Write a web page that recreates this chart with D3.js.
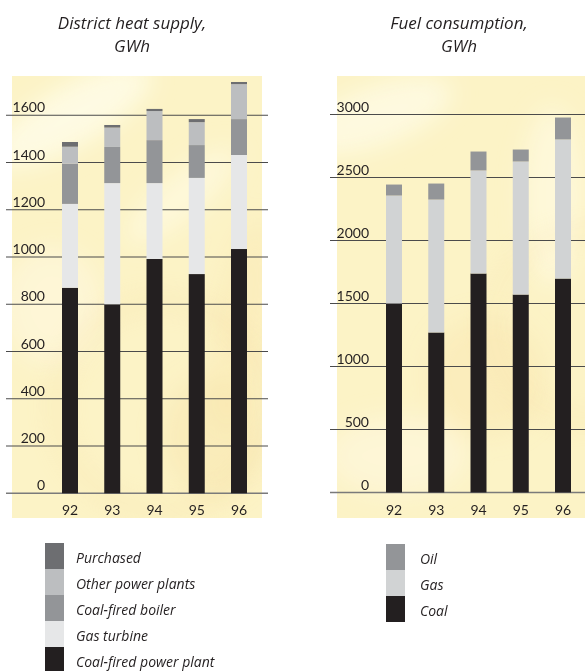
<!DOCTYPE html>
<html>
<head>
<meta charset="utf-8">
<script src="https://cdn.jsdelivr.net/npm/d3@7/dist/d3.min.js"></script>
<style>
  html, body { margin: 0; padding: 0; background: #fff; }
  svg { display: block; font-family: Lato, "Open Sans", sans-serif; }
  .ital { font-family: "Open Sans", Lato, sans-serif; font-style: italic; }
</style>
</head>
<body>
<svg id="chart" width="585" height="671"></svg>
<script>
// Years shared by both panels
const years = ["92", "93", "94", "95", "96"];

// District heat supply, GWh (stack order bottom -> top)
const heatSeries = ["Coal-fired power plant", "Gas turbine", "Coal-fired boiler", "Other power plants", "Purchased"];
const coalPowerPlant = [870, 800, 992, 928, 1034];
const gasTurbine     = [355, 513, 321, 407, 398];
const coalBoiler     = [170, 153, 182, 139, 152];
const otherPlants    = [72, 82, 123, 97, 148];
const purchased      = [20, 11, 9, 13, 9];
const heatTicks = [0, 200, 400, 600, 800, 1000, 1200, 1400, 1600];

// Fuel consumption, GWh (stack order bottom -> top)
const fuelSeries = ["Coal", "Gas", "Oil"];
const coal = [1500, 1270, 1738, 1571, 1698];
const gas  = [857, 1055, 818, 1056, 1104];
const oil  = [87, 127, 150, 95, 174];
const fuelTicks = [0, 500, 1000, 1500, 2000, 2500, 3000];

const heatColors = {
  "Coal-fired power plant": "#231f20",
  "Gas turbine": "#e6e7e8",
  "Coal-fired boiler": "#939598",
  "Other power plants": "#bcbec0",
  "Purchased": "#6d6e71"
};
const fuelColors = { "Coal": "#231f20", "Gas": "#d1d3d4", "Oil": "#939598" };

const svg = d3.select("#chart");
const defs = svg.append("defs");
defs.append("filter").attr("id", "soft")
  .attr("x", "-50%").attr("y", "-50%").attr("width", "200%").attr("height", "200%")
  .append("feGaussianBlur").attr("stdDeviation", 12);

function rows(series, arrays) {
  return years.map((y, i) => {
    const r = { year: y };
    series.forEach((s, k) => r[s] = arrays[k][i]);
    return r;
  });
}

function panel(opts) {
  const g = svg.append("g");
  const clipId = "clip" + opts.id;
  defs.append("clipPath").attr("id", clipId)
    .append("rect").attr("x", opts.px0).attr("y", opts.py0)
    .attr("width", opts.px1 - opts.px0).attr("height", opts.py1 - opts.py0);

  // pale yellow paper with soft swirls
  const bg = g.append("g").attr("clip-path", `url(#${clipId})`);
  bg.append("rect").attr("x", opts.px0).attr("y", opts.py0)
    .attr("width", opts.px1 - opts.px0).attr("height", opts.py1 - opts.py0)
    .attr("fill", "#fcf3c6");
  const blobs = bg.append("g").attr("filter", "url(#soft)");
  opts.blobs.forEach(b => {
    const cx = opts.px0 + b[0], cy = opts.py0 + b[1];
    blobs.append("ellipse")
      .attr("cx", cx).attr("cy", cy).attr("rx", b[2]).attr("ry", b[3])
      .attr("transform", `rotate(${b[4]},${cx},${cy})`)
      .attr("fill", b[5]).attr("opacity", b[6]);
  });
  // faint curved streak
  opts.arcs.forEach(a => {
    bg.append("circle")
      .attr("cx", opts.px0 + a[0]).attr("cy", opts.py0 + a[1]).attr("r", a[2])
      .attr("fill", "none").attr("stroke", a[3]).attr("stroke-width", a[4])
      .attr("opacity", a[5]).attr("filter", "url(#soft)");
  });

  const y = d3.scaleLinear().domain([0, opts.max]).range([opts.y0, opts.y1]);
  const x = d3.scalePoint().domain(years).range([opts.xc0, opts.xc1]);
  const bw = 16;

  // gridlines
  g.append("g").selectAll("line").data(opts.ticks).join("line")
    .attr("x1", opts.gx0).attr("x2", opts.gx1)
    .attr("y1", d => y(d)).attr("y2", d => y(d))
    .attr("stroke", d => d === 0 ? "#7a7a7a" : "#4b4b4b")
    .attr("stroke-width", d => d === 0 ? 1.6 : 1.1);

  // tick labels sitting on the lines
  g.append("g").selectAll("text").data(opts.ticks).join("text")
    .attr("x", opts.labelX).attr("y", d => y(d) - 3)
    .attr("text-anchor", "end")
    .attr("font-size", 14).attr("fill", "#231f20")
    .text(d => d);

  // stacked bars
  const stack = d3.stack().keys(opts.series)(opts.data);
  g.append("g").selectAll("g").data(stack).join("g")
    .attr("fill", d => opts.colors[d.key])
    .selectAll("rect").data(d => d).join("rect")
    .attr("x", d => x(d.data.year) - bw / 2)
    .attr("width", bw)
    .attr("y", d => y(d[1]))
    .attr("height", d => y(d[0]) - y(d[1]));

  // year labels
  g.append("g").selectAll("text").data(years).join("text")
    .attr("x", d => x(d)).attr("y", 515)
    .attr("text-anchor", "middle")
    .attr("font-size", 14).attr("fill", "#231f20")
    .text(d => d);

  // title
  g.append("g").selectAll("text").data(opts.title).join("text")
    .attr("class", "ital")
    .attr("x", opts.titleX).attr("y", (d, i) => 28.5 + i * 23)
    .attr("text-anchor", "middle")
    .attr("font-size", 17).attr("fill", "#231f20")
    .text(d => d);

  // legend (top of stack listed first)
  const leg = g.append("g");
  const items = opts.series.slice().reverse();
  items.forEach((s, i) => {
    leg.append("rect").attr("x", opts.legX).attr("y", opts.legY + i * 26)
      .attr("width", 19).attr("height", 26).attr("fill", opts.colors[s]);
    leg.append("text").attr("class", "ital")
      .attr("x", opts.legTX).attr("y", opts.legY + i * 26 + 19.5)
      .attr("font-size", 14).attr("fill", "#231f20")
      .text(s);
  });
}

panel({
  id: "heat",
  px0: 12, px1: 262, py0: 76, py1: 518,
  gx0: 6, gx1: 268,
  y0: 493.3, y1: 115.3, max: 1600,
  xc0: 70, xc1: 239,
  labelX: 45,
  ticks: heatTicks,
  series: heatSeries,
  colors: heatColors,
  data: rows(heatSeries, [coalPowerPlant, gasTurbine, coalBoiler, otherPlants, purchased]),
  title: ["District heat supply,", "GWh"],
  titleX: 132,
  legX: 45, legY: 543, legTX: 76,
  blobs: [
    [60, 40, 90, 30, -30, "#fffdf0", 0.7],
    [170, 120, 70, 22, -40, "#fffbe6", 0.6],
    [200, 360, 50, 60, 0, "#f7e0a4", 0.35],
    [230, 250, 30, 110, 10, "#f8e3aa", 0.3],
    [40, 230, 50, 60, 0, "#fffae6", 0.5]
  ],
  arcs: [[150, 330, 105, "#f5dc9c", 10, 0.35]]
});

panel({
  id: "fuel",
  px0: 337, px1: 585, py0: 76, py1: 518,
  gx0: 330, gx1: 585,
  y0: 492.5, y1: 114.5, max: 3000,
  xc0: 394, xc1: 563,
  labelX: 369,
  ticks: fuelTicks,
  series: fuelSeries,
  colors: fuelColors,
  data: rows(fuelSeries, [coal, gas, oil]),
  title: ["Fuel consumption,", "GWh"],
  titleX: 459,
  legX: 386, legY: 544, legTX: 420,
  blobs: [
    [40, 40, 80, 30, -20, "#fffdf0", 0.6],
    [150, 300, 60, 60, 0, "#f7e0a4", 0.3],
    [215, 120, 30, 90, 0, "#fffbe6", 0.6],
    [60, 380, 70, 40, 0, "#fffae6", 0.5]
  ],
  arcs: [[250, 250, 95, "#f5dc9c", 10, 0.3]]
});
</script>
</body>
</html>
